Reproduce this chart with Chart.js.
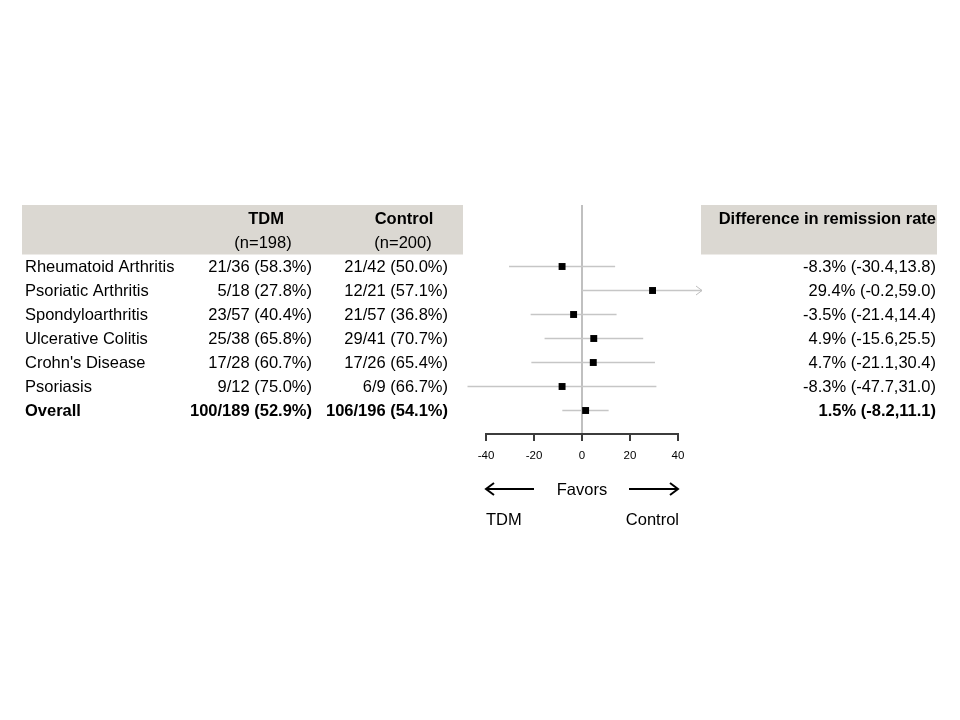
<!DOCTYPE html>
<html>
<head>
<meta charset="utf-8">
<script src="https://cdn.jsdelivr.net/npm/chart.js@4.4.1/dist/chart.umd.min.js"></script>
<style>
  html, body { margin: 0; padding: 0; background: #fff; }
  #wrap { width: 960px; height: 720px; }
</style>
</head>
<body>
<div id="wrap"><canvas id="forest" width="960" height="720"></canvas></div>
<script>
const categories = ['Rheumatoid Arthritis', 'Psoriatic Arthritis', 'Spondyloarthritis', 'Ulcerative Colitis', "Crohn's Disease", 'Psoriasis', 'Overall'];
const tdmText = ['21/36 (58.3%)', '5/18 (27.8%)', '23/57 (40.4%)', '25/38 (65.8%)', '17/28 (60.7%)', '9/12 (75.0%)', '100/189 (52.9%)'];
const controlText = ['21/42 (50.0%)', '12/21 (57.1%)', '21/57 (36.8%)', '29/41 (70.7%)', '17/26 (65.4%)', '6/9 (66.7%)', '106/196 (54.1%)'];
const diff = [-8.3, 29.4, -3.5, 4.9, 4.7, -8.3, 1.5];
const ciLow = [-30.4, -0.2, -21.4, -15.6, -21.1, -47.7, -8.2];
const ciHigh = [13.8, 59.0, 14.4, 25.5, 30.4, 31.0, 11.1];
const xTicks = [-40, -20, 0, 20, 40];

const FONT = '"Liberation Sans", Arial, sans-serif';
const rowOf = i => i + 1;

function fmt(v) { return v.toFixed(1); }

function arrowHead(ctx, x, y, dir, len, half) {
  ctx.beginPath();
  ctx.moveTo(x - dir * len, y - half);
  ctx.lineTo(x, y);
  ctx.lineTo(x - dir * len, y + half);
  ctx.stroke();
}

const forestDecor = {
  id: 'forestDecor',
  beforeDatasetsDraw(chart) {
    const { ctx, chartArea, scales: { x, y } } = chart;
    ctx.save();
    // grey header boxes
    const boxTop = chartArea.top;
    const boxBottom = y.getPixelForValue(0.5);
    ctx.fillStyle = '#dbd8d2';
    ctx.fillRect(22, boxTop, 441, boxBottom - boxTop);
    ctx.fillRect(701, boxTop, 236, boxBottom - boxTop);
    // line of no difference
    const x0 = x.getPixelForValue(0);
    ctx.strokeStyle = '#c0c0c0';
    ctx.lineWidth = 2;
    ctx.beginPath();
    ctx.moveTo(x0, chartArea.top);
    ctx.lineTo(x0, chartArea.bottom);
    ctx.stroke();
    ctx.restore();
  },
  afterDatasetsDraw(chart) {
    const { ctx, chartArea, scales: { x, y } } = chart;
    ctx.save();

    // arrows for intervals running past the plotted range
    ctx.strokeStyle = '#bdbdbd';
    ctx.lineWidth = 1;
    ciHigh.forEach((hi, i) => {
      if (hi > x.max) arrowHead(ctx, chartArea.right, y.getPixelForValue(rowOf(i)), 1, 6, 4.5);
    });
    ciLow.forEach((lo, i) => {
      if (lo < x.min) arrowHead(ctx, chartArea.left, y.getPixelForValue(rowOf(i)), -1, 6, 4.5);
    });

    // table text
    ctx.fillStyle = '#000';
    ctx.textBaseline = 'alphabetic';
    const hy1 = y.getPixelForValue(-1) + 5.5;
    const hy2 = y.getPixelForValue(0) + 5.5;
    ctx.font = 'bold 16.5px ' + FONT;
    ctx.textAlign = 'center';
    ctx.fillText('TDM', 266, hy1);
    ctx.fillText('Control', 404, hy1);
    ctx.textAlign = 'right';
    ctx.fillText('Difference in remission rate', 936, hy1);
    ctx.font = '16.5px ' + FONT;
    ctx.textAlign = 'center';
    ctx.fillText('(n=198)', 263, hy2);
    ctx.fillText('(n=200)', 403, hy2);

    categories.forEach((name, i) => {
      const ty = y.getPixelForValue(rowOf(i)) + 5.5;
      const bold = i === categories.length - 1;
      ctx.font = (bold ? 'bold ' : '') + '16.5px ' + FONT;
      ctx.textAlign = 'left';
      ctx.fillText(name, 25, ty);
      ctx.textAlign = 'right';
      ctx.fillText(tdmText[i], 312, ty);
      ctx.fillText(controlText[i], 448, ty);
      ctx.fillText(fmt(diff[i]) + '% (' + fmt(ciLow[i]) + ',' + fmt(ciHigh[i]) + ')', 936, ty);
    });

    // x axis
    const ax = chartArea.bottom;
    const xa = x.getPixelForValue(xTicks[0]);
    const xb = x.getPixelForValue(xTicks[xTicks.length - 1]);
    ctx.strokeStyle = '#3c3c3c';
    ctx.lineWidth = 2;
    ctx.beginPath();
    ctx.moveTo(xa - 1, ax);
    ctx.lineTo(xb + 1, ax);
    ctx.stroke();
    ctx.font = '11.5px ' + FONT;
    ctx.textAlign = 'center';
    ctx.textBaseline = 'middle';
    xTicks.forEach(t => {
      const px = x.getPixelForValue(t);
      ctx.beginPath();
      ctx.moveTo(px, ax);
      ctx.lineTo(px, ax + 7);
      ctx.stroke();
      ctx.fillText(String(t), px, ax + 22);
    });

    // favours
    const fy = ax + 55;
    ctx.font = '16.5px ' + FONT;
    ctx.textBaseline = 'alphabetic';
    ctx.fillText('Favors', x.getPixelForValue(0), fy + 6);
    ctx.strokeStyle = '#000';
    ctx.lineWidth = 2;
    ctx.beginPath();
    ctx.moveTo(x.getPixelForValue(-20), fy);
    ctx.lineTo(xa, fy);
    ctx.moveTo(x.getPixelForValue(20) - 1, fy);
    ctx.lineTo(xb, fy);
    ctx.stroke();
    arrowHead(ctx, xa, fy, -1, 8, 6);
    arrowHead(ctx, xb, fy, 1, 8, 6);
    ctx.textAlign = 'left';
    ctx.fillText('TDM', xa, fy + 36);
    ctx.textAlign = 'right';
    ctx.fillText('Control', xb + 1, fy + 36);

    ctx.restore();
  }
};

const ciSets = categories.map((c, i) => ({
  type: 'line',
  label: c + ' CI',
  data: [{ x: ciLow[i], y: rowOf(i) }, { x: ciHigh[i], y: rowOf(i) }],
  borderColor: '#c6c6c6',
  borderWidth: 1.4,
  pointRadius: 0,
  order: 2
}));

new Chart(document.getElementById('forest'), {
  type: 'scatter',
  data: {
    datasets: [
      {
        label: 'Difference',
        data: diff.map((d, i) => ({ x: d, y: rowOf(i) })),
        pointStyle: 'rect',
        pointRadius: 4.9,
        pointHoverRadius: 4.9,
        backgroundColor: '#000',
        borderColor: '#000',
        borderWidth: 0,
        order: 0
      },
      ...ciSets
    ]
  },
  options: {
    responsive: false,
    animation: false,
    layout: { padding: { left: 462, right: 258, top: 205, bottom: 286 } },
    plugins: { legend: { display: false }, tooltip: { enabled: false } },
    scales: {
      x: { type: 'linear', min: -50, max: 50, display: false },
      y: { type: 'linear', reverse: true, min: -1.5625, max: 7.979, display: false }
    }
  },
  plugins: [forestDecor]
});
</script>
</body>
</html>
